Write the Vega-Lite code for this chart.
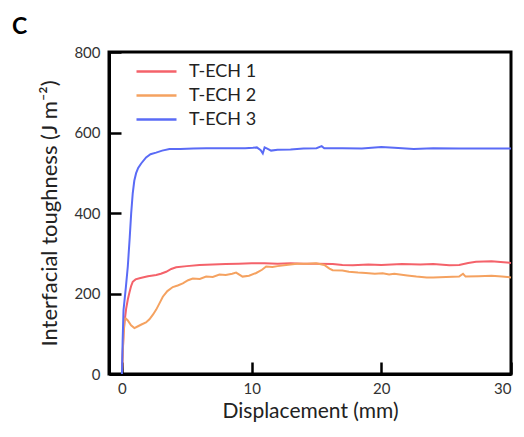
{
  "$schema": "https://vega.github.io/schema/vega-lite/v6.json",
  "width": 402,
  "height": 322,
  "autosize": "none",
  "padding": {"left": 109, "top": 52, "right": 13, "bottom": 63},
  "background": "white",
  "title": {"text": "C", "anchor": "start", "frame": "group", "dx": -97, "dy": 17, "baseline": "bottom", "fontSize": 23, "fontWeight": "bold", "font": "Lato", "color": "black", "offset": 0},
  "config": {
    "view": {"stroke": "black", "strokeWidth": 3},
    "axis": {"grid": false, "domain": true, "domainWidth": 3, "tickWidth": 2.5, "tickColor": "black", "labelFont": "Lato", "titleFont": "Lato", "labelColor": "#333333", "titleColor": "#222222", "titleFontWeight": "normal"},
    "axisX": {"domainColor": "black"},
    "axisY": {"domainColor": "black"}
  },
  "data": {"values": [
    {"s": "T-ECH 1", "x": 0, "y": 0},
    {"s": "T-ECH 1", "x": 0.06, "y": 50},
    {"s": "T-ECH 1", "x": 0.12, "y": 101},
    {"s": "T-ECH 1", "x": 0.22, "y": 135},
    {"s": "T-ECH 1", "x": 0.32, "y": 162},
    {"s": "T-ECH 1", "x": 0.45, "y": 185},
    {"s": "T-ECH 1", "x": 0.58, "y": 203},
    {"s": "T-ECH 1", "x": 0.7, "y": 218},
    {"s": "T-ECH 1", "x": 0.83, "y": 229},
    {"s": "T-ECH 1", "x": 1.05, "y": 235},
    {"s": "T-ECH 1", "x": 1.35, "y": 238},
    {"s": "T-ECH 1", "x": 2.0, "y": 243},
    {"s": "T-ECH 1", "x": 2.64, "y": 246},
    {"s": "T-ECH 1", "x": 3.0, "y": 249},
    {"s": "T-ECH 1", "x": 3.41, "y": 254},
    {"s": "T-ECH 1", "x": 3.8, "y": 261},
    {"s": "T-ECH 1", "x": 4.18, "y": 265},
    {"s": "T-ECH 1", "x": 5.0, "y": 268},
    {"s": "T-ECH 1", "x": 5.98, "y": 271},
    {"s": "T-ECH 1", "x": 7.0, "y": 272},
    {"s": "T-ECH 1", "x": 8.0, "y": 273},
    {"s": "T-ECH 1", "x": 9.0, "y": 274},
    {"s": "T-ECH 1", "x": 10.0, "y": 275},
    {"s": "T-ECH 1", "x": 11.0, "y": 275},
    {"s": "T-ECH 1", "x": 12.0, "y": 274},
    {"s": "T-ECH 1", "x": 13.0, "y": 275},
    {"s": "T-ECH 1", "x": 14.0, "y": 274},
    {"s": "T-ECH 1", "x": 15.0, "y": 274},
    {"s": "T-ECH 1", "x": 16.25, "y": 273},
    {"s": "T-ECH 1", "x": 17.0, "y": 271},
    {"s": "T-ECH 1", "x": 17.8, "y": 270},
    {"s": "T-ECH 1", "x": 19.0, "y": 272},
    {"s": "T-ECH 1", "x": 20.0, "y": 271},
    {"s": "T-ECH 1", "x": 21.6, "y": 273},
    {"s": "T-ECH 1", "x": 23.0, "y": 272},
    {"s": "T-ECH 1", "x": 24.0, "y": 273},
    {"s": "T-ECH 1", "x": 25.25, "y": 270},
    {"s": "T-ECH 1", "x": 26.0, "y": 271},
    {"s": "T-ECH 1", "x": 26.7, "y": 276},
    {"s": "T-ECH 1", "x": 27.3, "y": 279},
    {"s": "T-ECH 1", "x": 28.5, "y": 280},
    {"s": "T-ECH 1", "x": 29.2, "y": 278},
    {"s": "T-ECH 1", "x": 30.0, "y": 276},
    {"s": "T-ECH 2", "x": 0, "y": 0},
    {"s": "T-ECH 2", "x": 0.08, "y": 70},
    {"s": "T-ECH 2", "x": 0.19, "y": 138},
    {"s": "T-ECH 2", "x": 0.3, "y": 138},
    {"s": "T-ECH 2", "x": 0.45, "y": 133},
    {"s": "T-ECH 2", "x": 0.7, "y": 121},
    {"s": "T-ECH 2", "x": 0.96, "y": 114},
    {"s": "T-ECH 2", "x": 1.2, "y": 118},
    {"s": "T-ECH 2", "x": 1.5, "y": 123},
    {"s": "T-ECH 2", "x": 1.85, "y": 128},
    {"s": "T-ECH 2", "x": 2.12, "y": 136},
    {"s": "T-ECH 2", "x": 2.4, "y": 148},
    {"s": "T-ECH 2", "x": 2.64, "y": 160},
    {"s": "T-ECH 2", "x": 2.9, "y": 176},
    {"s": "T-ECH 2", "x": 3.15, "y": 192},
    {"s": "T-ECH 2", "x": 3.5, "y": 206},
    {"s": "T-ECH 2", "x": 3.92, "y": 216},
    {"s": "T-ECH 2", "x": 4.3, "y": 220},
    {"s": "T-ECH 2", "x": 4.69, "y": 225},
    {"s": "T-ECH 2", "x": 5.1, "y": 233},
    {"s": "T-ECH 2", "x": 5.46, "y": 237},
    {"s": "T-ECH 2", "x": 6.0, "y": 236},
    {"s": "T-ECH 2", "x": 6.49, "y": 242},
    {"s": "T-ECH 2", "x": 7.0, "y": 241},
    {"s": "T-ECH 2", "x": 7.52, "y": 247},
    {"s": "T-ECH 2", "x": 8.0, "y": 246},
    {"s": "T-ECH 2", "x": 8.5, "y": 249},
    {"s": "T-ECH 2", "x": 8.8, "y": 252},
    {"s": "T-ECH 2", "x": 9.3, "y": 242},
    {"s": "T-ECH 2", "x": 9.8, "y": 244},
    {"s": "T-ECH 2", "x": 10.35, "y": 251},
    {"s": "T-ECH 2", "x": 10.8, "y": 259},
    {"s": "T-ECH 2", "x": 11.12, "y": 267},
    {"s": "T-ECH 2", "x": 11.6, "y": 266},
    {"s": "T-ECH 2", "x": 12.0, "y": 268},
    {"s": "T-ECH 2", "x": 12.66, "y": 271},
    {"s": "T-ECH 2", "x": 13.5, "y": 274},
    {"s": "T-ECH 2", "x": 14.3, "y": 274},
    {"s": "T-ECH 2", "x": 14.97, "y": 275},
    {"s": "T-ECH 2", "x": 15.6, "y": 271},
    {"s": "T-ECH 2", "x": 16.0, "y": 262},
    {"s": "T-ECH 2", "x": 16.25, "y": 258},
    {"s": "T-ECH 2", "x": 17.0, "y": 257},
    {"s": "T-ECH 2", "x": 17.5, "y": 254},
    {"s": "T-ECH 2", "x": 18.2, "y": 252},
    {"s": "T-ECH 2", "x": 18.8, "y": 251},
    {"s": "T-ECH 2", "x": 19.5, "y": 249},
    {"s": "T-ECH 2", "x": 20.1, "y": 250},
    {"s": "T-ECH 2", "x": 20.6, "y": 247},
    {"s": "T-ECH 2", "x": 21.0, "y": 249},
    {"s": "T-ECH 2", "x": 22.0, "y": 245},
    {"s": "T-ECH 2", "x": 22.7, "y": 242},
    {"s": "T-ECH 2", "x": 23.5, "y": 240},
    {"s": "T-ECH 2", "x": 24.0, "y": 240},
    {"s": "T-ECH 2", "x": 25.0, "y": 241},
    {"s": "T-ECH 2", "x": 26.0, "y": 242},
    {"s": "T-ECH 2", "x": 26.3, "y": 249},
    {"s": "T-ECH 2", "x": 26.5, "y": 242},
    {"s": "T-ECH 2", "x": 27.5, "y": 243},
    {"s": "T-ECH 2", "x": 28.5, "y": 244},
    {"s": "T-ECH 2", "x": 29.3, "y": 242},
    {"s": "T-ECH 2", "x": 30.0, "y": 240},
    {"s": "T-ECH 3", "x": 0, "y": 0},
    {"s": "T-ECH 3", "x": 0.05, "y": 80},
    {"s": "T-ECH 3", "x": 0.12, "y": 159},
    {"s": "T-ECH 3", "x": 0.3, "y": 215},
    {"s": "T-ECH 3", "x": 0.45, "y": 267},
    {"s": "T-ECH 3", "x": 0.6, "y": 340},
    {"s": "T-ECH 3", "x": 0.71, "y": 399},
    {"s": "T-ECH 3", "x": 0.83, "y": 449},
    {"s": "T-ECH 3", "x": 0.95, "y": 480},
    {"s": "T-ECH 3", "x": 1.09, "y": 499},
    {"s": "T-ECH 3", "x": 1.25, "y": 512},
    {"s": "T-ECH 3", "x": 1.48, "y": 523},
    {"s": "T-ECH 3", "x": 1.86, "y": 538},
    {"s": "T-ECH 3", "x": 2.2, "y": 546},
    {"s": "T-ECH 3", "x": 2.63, "y": 550},
    {"s": "T-ECH 3", "x": 3.1, "y": 555},
    {"s": "T-ECH 3", "x": 3.66, "y": 559},
    {"s": "T-ECH 3", "x": 4.5, "y": 559},
    {"s": "T-ECH 3", "x": 5.5, "y": 560},
    {"s": "T-ECH 3", "x": 6.5, "y": 561},
    {"s": "T-ECH 3", "x": 7.5, "y": 561},
    {"s": "T-ECH 3", "x": 8.5, "y": 561},
    {"s": "T-ECH 3", "x": 9.5, "y": 561},
    {"s": "T-ECH 3", "x": 10.1, "y": 562},
    {"s": "T-ECH 3", "x": 10.4, "y": 563},
    {"s": "T-ECH 3", "x": 10.7, "y": 556},
    {"s": "T-ECH 3", "x": 10.86, "y": 548},
    {"s": "T-ECH 3", "x": 11.0, "y": 563},
    {"s": "T-ECH 3", "x": 11.2, "y": 560},
    {"s": "T-ECH 3", "x": 11.5, "y": 555},
    {"s": "T-ECH 3", "x": 12.0, "y": 557},
    {"s": "T-ECH 3", "x": 13.0, "y": 558},
    {"s": "T-ECH 3", "x": 14.0, "y": 560},
    {"s": "T-ECH 3", "x": 15.0, "y": 561},
    {"s": "T-ECH 3", "x": 15.4, "y": 566},
    {"s": "T-ECH 3", "x": 15.6, "y": 561},
    {"s": "T-ECH 3", "x": 17.0, "y": 561},
    {"s": "T-ECH 3", "x": 18.5, "y": 560},
    {"s": "T-ECH 3", "x": 20.0, "y": 564},
    {"s": "T-ECH 3", "x": 21.0, "y": 562},
    {"s": "T-ECH 3", "x": 22.5, "y": 559},
    {"s": "T-ECH 3", "x": 24.0, "y": 561},
    {"s": "T-ECH 3", "x": 26.0, "y": 560},
    {"s": "T-ECH 3", "x": 28.0, "y": 560},
    {"s": "T-ECH 3", "x": 30.0, "y": 560}
  ]},
  "mark": {"type": "line", "strokeWidth": 2},
  "encoding": {
    "x": {"field": "x", "type": "quantitative", "scale": {"domain": [-1, 30], "nice": false, "zero": false},
      "axis": {"values": [0, 10, 20, 30], "title": "Displacement (mm)", "titleFontSize": 21, "labelFontSize": 15, "tickSize": -12, "labelPadding": 19, "titlePadding": 4}},
    "y": {"field": "y", "type": "quantitative", "scale": {"domain": [0, 800], "nice": false},
      "axis": {"values": [0, 200, 400, 600, 800], "title": "Interfacial toughness (J m⁻²)", "titleFontSize": 22, "labelFontSize": 15, "tickSize": -12, "labelPadding": 21, "titlePadding": 12}},
    "color": {"field": "s", "type": "nominal",
      "scale": {"domain": ["T-ECH 1", "T-ECH 2", "T-ECH 3"], "range": ["#F4626A", "#F5A260", "#5A6BF6"]},
      "legend": {"title": null, "orient": "none", "legendX": 26, "legendY": 8, "symbolType": "M-2,0H2", "symbolSize": 400, "symbolStrokeWidth": 2.5, "labelFontSize": 18, "labelColor": "#222222", "labelFont": "Lato", "rowPadding": 3, "labelOffset": 21, "symbolOffset": 10}}
  }
}
